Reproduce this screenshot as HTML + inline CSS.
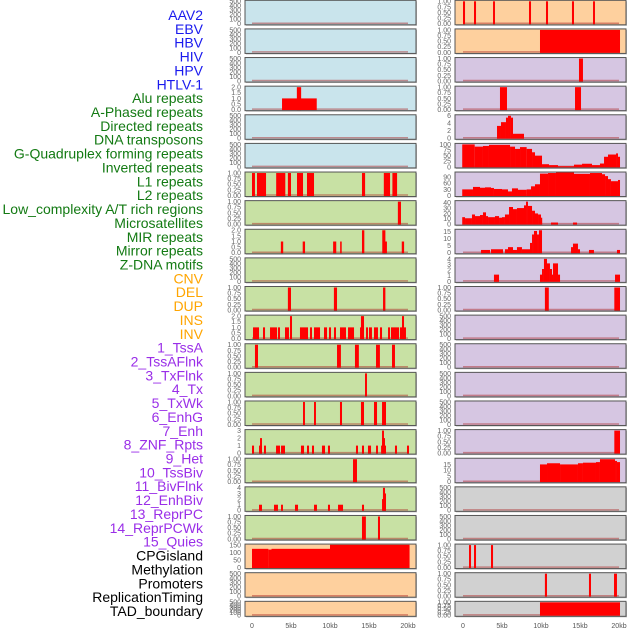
<!DOCTYPE html>
<html><head><meta charset="utf-8"><style>
html,body{margin:0;padding:0;background:#fff;}
svg{display:block;font-family:"Liberation Sans",sans-serif;}
</style></head><body>
<svg id="chart" width="630" height="630" viewBox="0 0 630 630"></svg>
<script>
const trackLabels=["AAV2","EBV","HBV","HIV","HPV","HTLV-1","Alu repeats","A-Phased repeats","Directed repeats","DNA transposons","G-Quadruplex forming repeats","Inverted repeats","L1 repeats","L2 repeats","Low_complexity A/T rich regions","Microsatellites","MIR repeats","Mirror repeats","Z-DNA motifs","CNV","DEL","DUP","INS","INV","1_TssA","2_TssAFlnk","3_TxFlnk","4_Tx","5_TxWk","6_EnhG","7_Enh","8_ZNF_Rpts","9_Het","10_TssBiv","11_BivFlnk","12_EnhBiv","13_ReprPC","14_ReprPCWk","15_Quies","CPGisland","Methylation","Promoters","ReplicationTiming","TAD_boundary"];
const labelColors=[].concat(Array(6).fill("#1a1aee"),Array(13).fill("#137a13"),Array(5).fill("#ffa500"),Array(15).fill("#9a2ee8"),Array(5).fill("#000"));
const xTickValues=[0,5,10,15,20];
const xTickLabels=["0","5kb","10kb","15kb","20kb"];
const T500=["0","100","200","300","400","500"],T1=["0.00","0.25","0.50","0.75","1.00"],T2=["0.0","0.5","1.0","1.5","2.0"];
const leftBg=["b","b","b","b","b","b","g","g","g","g","g","g","g","g","g","g","g","g","g","o","o","o"];
const leftMax=[500,500,500,2,500,500,1,1,2,500,1,2,1,1,1,3,1,4,1,150,500,500];
const leftTicks=[T500,T500,T500,T2,T500,T500,T1,T1,T2,T500,T1,T2,T1,T1,T1,["0","1","2","3"],T1,["0","1","2","3","4"],T1,["0","50","100","150"],T500,T500];
const leftBars=[[],[],[],
[[3.85,8.3,1],[5.75,6.3,2]],
[],[],
[[0,0.38,1],[0.64,1.8,1],[3.1,4.27,1],[4.6,5,1],[5.77,6.54,1],[7.05,7.95,1],[14.1,14.5,1],[16.9,17.7,1],[18.0,18.6,1]],
[[18.7,19.1,1]],
[[3.7,4.0,1],[6.5,6.8,1],[10.4,10.8,1],[11.3,11.5,1],[14.1,14.4,2],[16.7,17.1,2],[16.9,17.3,1],[19.2,19.5,1]],
[],
[[4.6,5.0,1],[10.5,10.9,1],[16.8,17.1,1]],
[[0.13,0.9,1],[1.41,1.67,1],[2.31,3.21,1],[3.33,3.59,1],[4.23,4.74,1],[6.15,7.18,1],[7.44,7.69,1],[7.95,8.72,1],[9.23,9.62,1],[9.87,10.13,1],[10.51,10.77,1],[11.28,12.05,1],[12.31,13.08,1],[13.85,14.36,1],[14.62,14.87,1],[15.0,15.38,1],[15.64,16.15,1],[16.41,16.67,1],[17.44,17.69,1],[17.82,18.85,1],[18.97,19.74,1],[4.87,5.13,2],[13.97,14.36,2],[19.23,19.49,2]],
[[0.38,0.77,1],[10.9,11.4,1],[13.2,13.7,1],[15.9,16.4,1],[17.95,18.33,1]],
[[14.49,14.74,1]],
[[6.54,6.79,1],[7.95,8.2,1],[11.28,11.54,1],[13.97,14.36,1],[15.64,16.03,1],[16.67,17.18,1]],
[[0,0.26,1],[0.9,1.28,1],[1.03,1.28,2],[1.54,1.79,1],[3.08,3.59,1],[3.72,4.23,1],[6.28,6.67,1],[7.05,7.31,1],[7.69,7.95,1],[8.97,9.36,1],[9.74,10.0,1],[13.33,13.59,1],[14.1,14.36,1],[14.87,15.26,1],[15.9,16.15,1],[16.55,17.18,1],[16.67,17.05,2],[16.67,16.92,3],[18.33,18.59,1],[19.87,20.13,1]],
[[12.95,13.46,1]],
[[0.9,1.28,1],[2.82,3.33,1],[3.72,3.97,1],[5.51,5.9,1],[7.95,8.33,1],[9.74,10.0,1],[11.03,11.67,1],[14.1,14.36,1],[16.67,17.18,2],[16.9,17.18,3],[16.79,17.05,4]],
[[14.1,14.6,1],[16.15,16.41,1]],
[[0,2.1,125],[2.1,2.5,120],[2.5,10,125],[10,20.2,152]],
[],[]];
const rightBg=["o","o","p","p","p","p","p","p","p","p","p","p","p","p","p","p","p","y","y","y","y","y"];
const rightMax=[1,1,1,1,6,100,110,42,16,4,1,500,500,500,500,1,19.5,500,500,1,1,1];
const rightTicks=[T1,T1,T1,T1,["0","2","4","6"],["0","25","50","75","100"],["0","30","60","90"],["0","10","20","30","40"],["0","5","10","15"],["0","1","2","3","4"],T1,T500,T500,T500,T500,T1,["0","5","10","15"],T500,T500,T1,T1,T1];
const rightTickVals=[null,null,null,null,null,null,[0,30,60,90],[0,10,20,30,40],[0,5,10,15],null,null,null,null,null,null,null,[0,5,10,15],null,null,null,null,null];
const rightBars=[
[[0,0.26,1],[1.41,1.67,1],[3.85,4.1,1],[8.46,8.72,1],[10.64,10.9,1],[13.97,14.23,1],[16.67,16.92,1]],
[[9.87,20.13,1]],
[[14.87,15.38,1]],
[[4.74,5.64,1],[14.36,15.13,1]],
[[4.36,4.87,3.3],[4.87,5.51,4.3],[5.51,5.77,5.5],[5.77,6.15,6],[6.15,6.41,5.5],[6.41,7.82,1.2]],
[[-0.1,1.5,100],[1.5,2.56,90],[2.56,3.33,93],[3.33,6.03,98],[6.03,6.67,90],[6.67,7.31,80],[7.31,8.16,88],[8.16,8.85,80],[8.85,9.23,65],[9.23,10.13,50],[10.13,11.03,12],[11.03,12.18,8],[12.18,14.23,3],[14.23,15.26,10],[15.26,16.54,14],[16.54,17.56,8],[17.56,18.08,15],[18.08,18.59,45],[18.59,19.62,55],[19.62,19.87,60],[19.87,20.13,45]],
[[-0.1,1.28,30],[1.28,2.18,42],[2.18,2.82,38],[2.82,3.59,40],[3.59,3.97,37],[3.97,5.0,32],[5.0,5.77,30],[5.77,6.28,20],[6.28,7.05,35],[7.05,8.16,28],[8.16,8.72,30],[8.72,9.23,45],[9.23,9.87,55],[9.87,10.9,107],[10.9,11.92,110],[11.92,14.23,113],[14.23,16.28,106],[16.28,17.82,110],[17.82,18.21,104],[18.21,18.59,95],[18.59,18.97,80],[18.97,19.87,70],[19.87,20.13,76]],
[[-0.1,0.26,13],[0.26,1.15,11],[1.15,1.54,18],[1.54,2.18,15],[2.18,2.56,17],[2.56,2.95,22],[2.95,3.21,15],[3.21,4.1,13],[4.1,4.62,15],[4.62,5.0,12],[5.0,5.38,13],[5.38,5.9,18],[5.9,6.41,32],[6.41,6.92,28],[6.92,7.82,30],[7.82,8.08,35],[8.08,8.33,42],[8.33,8.85,34],[8.85,9.23,25],[9.23,9.62,20],[9.62,10.0,18],[10.0,10.13,12],[11.28,12.18,3],[14.1,14.62,3]],
[[2.31,3.46,2],[3.59,5.13,2.5],[5.38,5.77,2.5],[5.77,6.41,4],[6.41,6.92,2],[6.92,7.56,4],[7.56,8.59,2.5],[8.59,8.85,7],[8.85,9.1,13],[9.1,9.49,15.5],[9.49,9.74,13],[9.74,10.13,16],[13.85,14.1,4],[14.1,14.74,6.5],[14.74,15.0,2.5],[16.15,16.79,2],[19.74,20.13,2]],
[[3.97,4.62,1.2],[9.87,10.13,1.2],[10.13,10.38,2.2],[10.38,10.77,4],[10.77,11.15,3.2],[11.15,11.41,2.2],[11.41,11.54,1.2],[11.54,12.18,3.2],[12.18,12.44,1.2],[19.49,20.13,1.2]],
[[10.5,11.0,1],[19.4,20.13,1]],
[],[],[],[],
[[19.4,20.13,1]],
[[9.87,10.77,15],[10.77,12.44,16],[12.44,14.74,15],[14.74,15.38,16],[15.38,17.05,16.5],[17.05,17.56,17],[17.56,19.49,19.5],[19.49,19.74,18],[19.74,20.13,17]],
[],[],
[[0.77,1.03,1],[1.41,1.67,1],[3.59,3.85,1]],
[[10.5,10.77,1],[16.15,16.41,1],[19.36,19.74,1]],
[[9.87,20.13,1]]];

const bgColors={b:"#c9e4ec",g:"#c8e1a4",o:"#fed09e",p:"#d6c6e2",y:"#d1d1d1"};
const NS="http://www.w3.org/2000/svg";
const svg=document.getElementById("chart");
function mk(tag,attrs,parent){const e=document.createElementNS(NS,tag);for(const k in attrs)e.setAttribute(k,attrs[k]);(parent||svg).appendChild(e);return e;}
const PITCH=28.62,H=24.5;
function rowTop(r){return r*PITCH+0.3;}
function rowH(r){return r===21?15:H;}

trackLabels.forEach((t,i)=>{
  const e=mk("text",{x:203,y:20+i*13.86,"text-anchor":"end","font-size":"14",fill:labelColors[i]});
  
  
  e.textContent=t;
});

function drawColumn(col,px0,pw,zeroX,bgs,maxs,ticks,tickVals,bars){
  const kbScale=7.8;
  const xs=v=>zeroX+v*kbScale;
  for(let r=0;r<22;r++){
    const top=rowTop(r),h=rowH(r);
    const g=mk("g",{});
    
    
    mk("rect",{x:px0+1,y:top+1,width:pw,height:h,fill:"#bbb"},g);
    const bg=mk("rect",{x:px0,y:top,width:pw,height:h,fill:bgColors[bgs[r]]},g);
    
    
    const y0=top+h-1,y1=top+1;
    const ys=v=>y0-(v/maxs[r])*(y0-y1);
    mk("line",{x1:xs(0),x2:xs(20),y1:y0-0.5,y2:y0-0.5,stroke:"rgba(170,30,30,0.45)","stroke-width":1.5},g);
    bars[r].forEach(b=>{
      const x=Math.max(xs(b[0]),px0),x2=xs(b[1]);
      const yy=Math.max(ys(b[2]),top);
      const e=mk("rect",{x:x,y:yy,width:Math.max(x2-x,1.2),height:y0-yy+0.5,fill:"#ff0000"},g);
      
      
    });
    mk("rect",{x:px0,y:top,width:pw,height:h,fill:"none",stroke:"#555","stroke-width":1},g);
    const tl=ticks[r],n=tl.length;
    tl.forEach((t,i)=>{
      const v=tickVals&&tickVals[r]?tickVals[r][i]:(i/(n-1))*maxs[r];
      const yy=tickVals&&tickVals[r]?ys(v):(y0-(i/(n-1))*(y0-y1));
      const e=mk("text",{x:px0-4,y:yy+2.4,"text-anchor":"end","font-size":"7",fill:"#666"},g);
      
      
      e.textContent=t;
    });
  }
  xTickValues.forEach((v,i)=>{
    const e=mk("text",{x:xs(v),y:628,"text-anchor":"middle","font-size":"7",fill:"#555"});
    
    
    e.textContent=xTickLabels[i];
  });
}
drawColumn("left",245,171,252,leftBg,leftMax,leftTicks,null,leftBars);
drawColumn("right",455,171,463,rightBg,rightMax,rightTicks,rightTickVals,rightBars);
</script>
</body></html>
